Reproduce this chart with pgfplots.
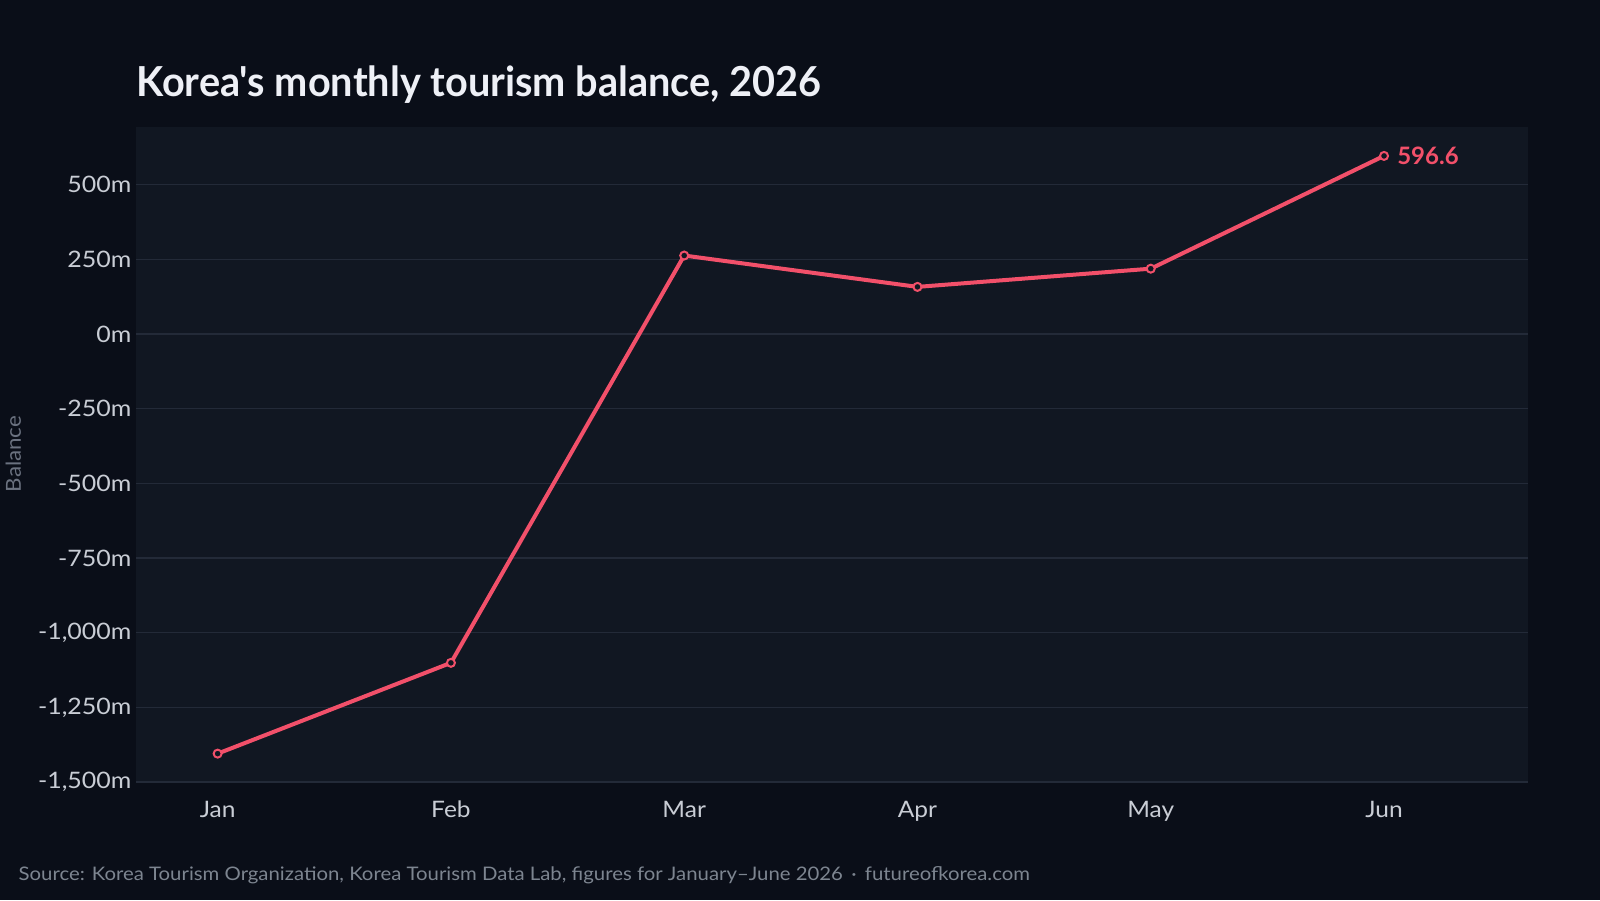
\documentclass[border=0pt]{standalone}
\usepackage{pgfplots}
\pgfplotsset{compat=1.18}
\usepackage{fontspec}
\setmainfont{Lato}
\definecolor{bgc}{HTML}{0A0E18}
\definecolor{plotbg}{HTML}{111722}
\definecolor{gridc}{HTML}{232A38}
\definecolor{linec}{HTML}{F2506A}
\definecolor{titlec}{HTML}{EEF0F6}
\definecolor{tickc}{HTML}{C9CDD5}
\definecolor{labc}{HTML}{6B7280}
\definecolor{srcc}{HTML}{7D8590}
\begin{document}
\begin{tikzpicture}
\fill[bgc] (0,0) rectangle (1200pt,675pt);
\path[use as bounding box] (0,0) rectangle (1200pt,675pt);
\begin{axis}[
  at={(102pt,88.5pt)}, anchor=south west,
  scale only axis, width=1044pt, height=491.6pt,
  xmin=-0.35, xmax=5.617, ymin=-1500, ymax=695,
  axis background/.style={fill=plotbg},
  axis line style={draw=none},
  major tick length=0pt,
  ymajorgrids, grid style={draw=gridc, line width=1.1pt},
  xtick={0,1,2,3,4,5},
  xticklabels={Jan,Feb,Mar,Apr,May,Jun},
  ytick={-1500,-1250,-1000,-750,-500,-250,0,250,500},
  yticklabels={{-1,500m},{-1,250m},{-1,000m},{-750m},{-500m},{-250m},{0m},{250m},{500m}},
  yticklabel style={font=\fontsize{17pt}{20pt}\selectfont\addfontfeatures{FakeStretch=1.1}, text=tickc, anchor=east, inner sep=0pt, xshift=-3.3pt},
  xticklabel style={font=\fontsize{17pt}{20pt}\selectfont\addfontfeatures{FakeStretch=1.08}, text=tickc, anchor=base, inner sep=0pt, yshift=-27pt},
  clip=false,
]
\addplot[color=linec, line width=3pt, mark=*, mark size=3pt,
  mark options={fill=plotbg, draw=linec, line width=1.5pt}]
  coordinates {(0,-1405) (1,-1101) (2,263) (3,158) (4,219) (5,596.6)};
\node[anchor=west, inner sep=0pt, xshift=9.75pt, text=linec,
  font=\fontsize{18pt}{21pt}\selectfont\bfseries] at (axis cs:5,596.6) {596.6};
\end{axis}
\node[anchor=base west, inner sep=0pt, text=titlec,
  font=\fontsize{31pt}{36pt}\selectfont\bfseries\addfontfeatures{FakeStretch=0.96, Ligatures=TeXOff}] at (102pt,602.25pt) {Korea's monthly tourism balance, 2026};
\node[anchor=base west, inner sep=0pt, text=srcc,
  font=\fontsize{14pt}{17pt}\selectfont\addfontfeatures{FakeStretch=1.09}] at (13.8pt,15pt) {Source: Korea Tourism Organization, Korea Tourism Data Lab, figures for January–June 2026 \,·\, futureofkorea.com};
\node[rotate=90, inner sep=0pt, text=labc,
  font=\fontsize{15.5pt}{18pt}\selectfont\addfontfeatures{FakeStretch=1.08}] at (10pt,334.5pt) {Balance};
\end{tikzpicture}
\end{document}
